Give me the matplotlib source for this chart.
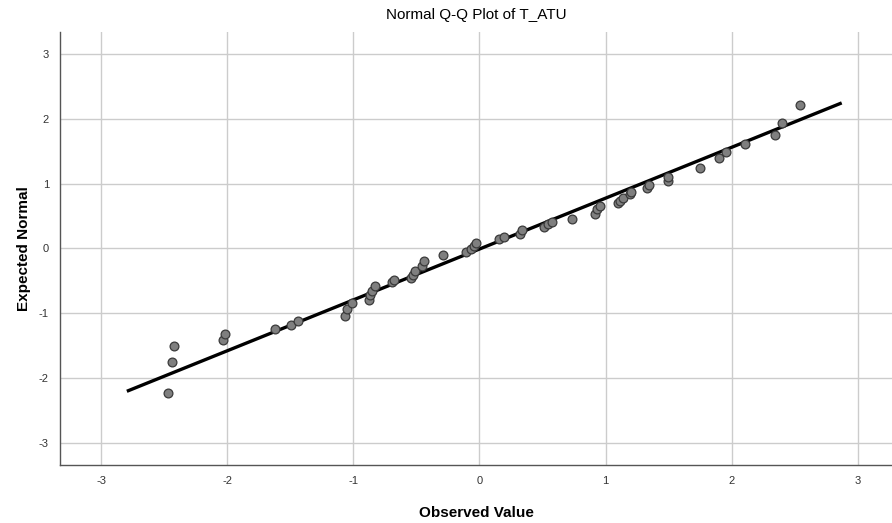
import numpy as np
import matplotlib
matplotlib.use("Agg")
import matplotlib.pyplot as plt

# 観測値 (x) と期待正規値 (y)
observed = [-2.47, -2.437, -2.418, -2.03, -2.014, -1.623, -1.496, -1.436,
            -1.066, -1.05, -1.008, -0.878, -0.868, -0.854, -0.826, -0.696,
            -0.678, -0.545, -0.529, -0.508, -0.456, -0.437, -0.287, -0.107,
            -0.067, -0.041, -0.028, 0.157, 0.192, 0.323, 0.339, 0.51, 0.54,
            0.575, 0.73, 0.915, 0.929, 0.952, 1.1, 1.113, 1.135, 1.195, 1.2,
            1.325, 1.346, 1.494, 1.496, 1.745, 1.9, 1.953, 2.104, 2.341, 2.4,
            2.542]
expected = [-2.225, -1.756, -1.505, -1.41, -1.324, -1.242, -1.18, -1.114,
            -1.046, -0.936, -0.841, -0.795, -0.717, -0.656, -0.574, -0.522,
            -0.486, -0.46, -0.409, -0.342, -0.27, -0.188, -0.1, -0.059,
            -0.012, 0.043, 0.09, 0.147, 0.172, 0.224, 0.285, 0.336, 0.375,
            0.415, 0.46, 0.532, 0.605, 0.656, 0.697, 0.733, 0.784, 0.836,
            0.877, 0.929, 0.98, 1.046, 1.099, 1.24, 1.401, 1.494, 1.613,
            1.752, 1.932, 2.219]

# 参照線の端点
line_x = [-2.783, 2.859]
line_y = [-2.194, 2.235]

ticks = [-3, -2, -1, 0, 1, 2, 3]

plt.rcParams['font.family'] = ['Liberation Sans', 'DejaVu Sans']
plt.rcParams['axes.unicode_minus'] = False

fig = plt.figure(figsize=(8.92, 5.23), dpi=100)
ax = fig.add_axes([0.0673, 0.111, 0.9327, 0.828])

ax.grid(True, color="#cccccc", linewidth=1.0)
ax.set_axisbelow(True)

ax.plot(line_x, line_y, color="black", linewidth=2.4, zorder=2)
ax.scatter(observed, expected, s=40, facecolor="#7f7f7f",
           edgecolor="#3a3a3a", linewidth=0.9, zorder=3)

ax.set_xlim(-3.325, 3.27)
ax.set_ylim(-3.34, 3.34)
ax.set_xticks(ticks)
ax.set_yticks(ticks)
ax.tick_params(length=0, labelsize=8, colors="#333333", pad=8)

for side in ["top", "right"]:
    ax.spines[side].set_visible(False)
for side in ["left", "bottom"]:
    ax.spines[side].set_color("#555555")
    ax.spines[side].set_linewidth(1.0)

ax.set_title("Normal Q-Q Plot of T_ATU", fontsize=11, pad=9)
ax.set_xlabel("Observed Value", fontsize=11, fontweight="bold", labelpad=14)
ax.set_ylabel("Expected Normal", fontsize=11, fontweight="bold", labelpad=6)

fig.savefig("out.png", dpi=100)
